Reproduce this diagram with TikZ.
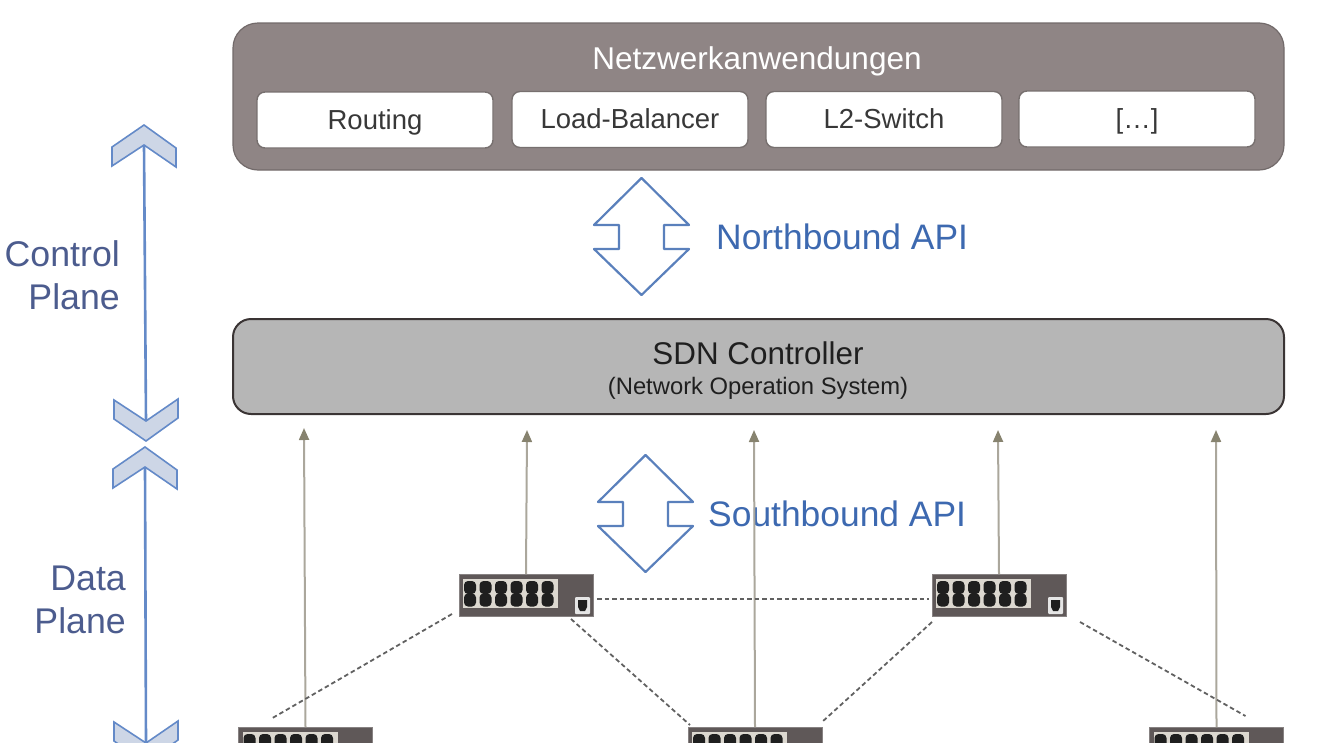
\documentclass[tikz,border=0pt]{standalone}
\usepackage{fontspec}
\setmainfont{Liberation Sans}
\usetikzlibrary{arrows.meta}
\definecolor{appsGrey}{HTML}{8F8585}
\definecolor{ctrlGrey}{HTML}{B6B6B6}
\definecolor{ctrlEdge}{HTML}{3A3434}
\definecolor{boxEdge}{HTML}{77706F}
\definecolor{apiBlue}{HTML}{3D69B0}
\definecolor{planeBlue}{HTML}{4C5C8E}
\definecolor{rangeBlue}{HTML}{648AC8}
\definecolor{chevronFill}{HTML}{CDD6E6}
\definecolor{linkGrey}{HTML}{ABA79C}
\definecolor{tipGrey}{HTML}{87836F}
\definecolor{switchGrey}{HTML}{5F5858}
\definecolor{panelGrey}{HTML}{DCD8D0}
\tikzset{
  apps/.style={draw=appsGrey!80!black,fill=appsGrey,rounded corners=25pt,line width=1.2pt},
  app/.style={draw=boxEdge,fill=white,rounded corners=8pt,line width=1.4pt,minimum width=236pt,minimum height=56pt,
    inner sep=0pt,outer sep=0pt,text=black!78,text height=22pt,text depth=4pt,font=\fontsize{27.5}{32}\selectfont},
  controller/.style={draw=ctrlEdge,fill=ctrlGrey,rounded corners=18pt,line width=2pt},
  api/.style={text=apiBlue,inner sep=0pt,font=\fontsize{35.4}{40}\selectfont},
  plane/.style={text=planeBlue,inner sep=0pt,align=right,font=\fontsize{35.7}{43}\selectfont},
  bigarrow/.style={draw=apiBlue!85,fill=white,line width=2.2pt,line join=round},
  chevron/.style={draw=rangeBlue,fill=chevronFill,line width=1.6pt,line join=miter},
  rangeline/.style={draw=rangeBlue,line width=2.6pt},
  uplink/.style={draw=linkGrey,line width=2pt,-{Triangle[length=12pt,width=10pt,color=tipGrey,fill=tipGrey]}},
  trunk/.style={draw=black!62,line width=1.8pt,dash pattern=on 4.5pt off 3pt},
  netbox/.style={fill=switchGrey,draw=switchGrey!75,line width=.8pt,minimum width=134pt,minimum height=42pt,inner sep=0pt,outer sep=0pt},
}
% switch: name, centre x, centre y
\newcommand\netswitch[3]{
  \node[netbox] (#1) at (#2,#3) {};
  \begin{scope}[shift={(#1.north west)}]
    \fill[panelGrey] (4,5) rectangle (99,34);
    \foreach \k in {0,...,5} {
      \fill[black!88,rounded corners=4pt] (5+\k*15.5,7) rectangle ++(12,13);
      \fill[black!88,rounded corners=4pt] (5+\k*15.5,19.5) rectangle ++(12,13);
    }
    \fill[white!90!black,rounded corners=1pt] (116,23) rectangle (131,40);
    \fill[black!88] (119,26) -- (128,26) -- (128,33) -- (126,37) -- (121,37) -- (119,33) -- cycle;
  \end{scope}
}
% chevron: name, apex x, apex y, direction (1 points up, -1 points down)
\newcommand\rangetip[4]{
  \coordinate (#1) at (#2,#3+#4*20);
  \draw[chevron] (#2,#3) -- ++(32,#4*23) -- ++(0,#4*19) -- (#1) -- ++(-32,#4*21) -- ++(0,-#4*19) -- cycle;
}
\begin{document}
\begin{tikzpicture}[x=1pt,y=-1pt]
\path[use as bounding box,clip] (0,0) rectangle (1320,742);

% control plane side
\node[apps,minimum width=1051pt,minimum height=147pt,inner sep=0pt] (apps) at (758.5,96.5) {};
\node[text=white,inner sep=0pt,font=\fontsize{31.5}{36}\selectfont] (appsTitle) at (757,61) {Netzwerkanwendungen};
\node[app] (routing) at (375,120) {Routing};
\node[app] (balancer) at (630,119.5) {Load-Balancer};
\node[app] (ltwo) at (884,119.5) {L2-Switch};
\node[app] (more) at (1137,119) {[…]};

\node[controller,minimum width=1051pt,minimum height=95pt,inner sep=0pt] (ctrl) at (758.5,366.5) {};
\node[text=black!88,inner sep=0pt,font=\fontsize{31.4}{36}\selectfont] (ctrlTitle) at (758,353) {SDN Controller};
\node[text=black!88,inner sep=0pt,font=\fontsize{23.8}{28}\selectfont] (ctrlSub) at (758,388) {(Network Operation System)};

% api arrows
\foreach \nm/\dx/\dy in {north/0/0,south/4/277} {
  \begin{scope}[shift={(\dx,\dy)}]
    \draw[bigarrow] (641.5,178) -- (689,225) -- (664,225) -- (664,249) -- (689,249) -- (641.5,295)
      -- (594,249) -- (619,249) -- (619,225) -- (594,225) -- cycle;
  \end{scope}
}
\node[api,anchor=west] (northApi) at (716,237) {Northbound API};
\node[api,anchor=west] (southApi) at (708,514) {Southbound API};

% plane ranges
\rangetip{topTip}{144}{125}{1}
\rangetip{midTip}{146}{441}{-1}
\rangetip{lowTip}{145}{447}{1}
\rangetip{endTip}{146}{763}{-1}
\draw[rangeline] (topTip) -- (midTip);
\draw[rangeline] (lowTip) -- (endTip);
\node[plane,anchor=east] (ctrlPlane) at (120,275) {Control\\Plane};
\node[plane,anchor=east] (dataPlane) at (126,600) {Data\\Plane};

% switches
\netswitch{swL}{526}{595}
\netswitch{swR}{999}{595}
\netswitch{swA}{305.5}{748}
\netswitch{swB}{755}{748}
\netswitch{swC}{1216.5}{748}

% uplinks
\foreach \sw/\tx/\ty in {swA/304/428,swL/527/430,swB/754/430,swR/998/430,swC/1216/430} {
  \coordinate (\sw top) at (\tx,\ty);
  \draw[uplink] (\sw.north) -- (\sw top);
}

% trunks
\draw[trunk] ([shift={(4,4)}]swL.east) -- ([shift={(-3,4)}]swR.west);
\draw[trunk] ([shift={(-7,-2)}]swL.south west) -- ([shift={(34,-9)}]swA.north west);
\draw[trunk] ([shift={(-22,3)}]swL.south east) -- ([shift={(2,-2)}]swB.north west);
\draw[trunk] ([shift={(0,6)}]swR.south west) -- ([shift={(0,-5)}]swB.north east);
\draw[trunk] ([shift={(14,6)}]swR.south east) -- ([shift={(96,-11)}]swC.north west);
\end{tikzpicture}
\end{document}
